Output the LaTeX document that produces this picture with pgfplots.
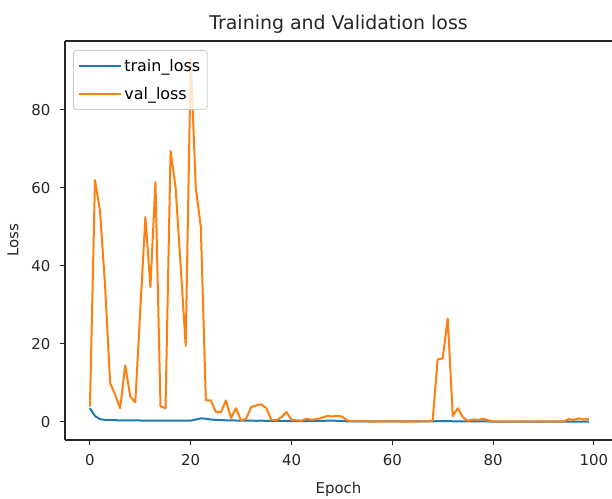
\documentclass[border=0pt]{standalone}
\usepackage{fontspec}
\setmainfont{DejaVu Sans}
\usepackage{pgfplots}
\usepackage{pgfplotstable}
\pgfplotsset{compat=1.18}
\definecolor{tabblue}{HTML}{1F77B4}
\definecolor{taborange}{HTML}{FF7F0E}
\pgfplotstableread{
epoch val
0 3.9
1 62
2 54
3 35
4 10
5 7
6 3.5
7 14.5
8 6.5
9 5
10 29
11 52.5
12 34.5
13 61.5
14 4
15 3.5
16 69.5
17 60
18 40
19 19.5
20 93
21 60
22 50
23 5.5
24 5.5
25 2.5
26 2.5
27 5.5
28 1
29 3.5
30 0.3
31 0.8
32 3.8
33 4.2
34 4.5
35 3.5
36 0.5
37 0.4
38 1.2
39 2.5
40 0.5
41 0.4
42 0.3
43 0.8
44 0.5
45 0.7
46 1.0
47 1.5
48 1.4
49 1.5
50 1.4
51 0.4
52 0.2
53 0.1
54 0.12
55 0.1
56 0.08
57 0.1
58 0.1
59 0.09
60 0.1
61 0.1
62 0.08
63 0.1
64 0.1
65 0.09
66 0.1
67 0.1
68 0.3
69 16
70 16.3
71 26.5
72 1.5
73 3.5
74 1.2
75 0.3
76 0.6
77 0.5
78 0.8
79 0.4
80 0.1
81 0.1
82 0.08
83 0.1
84 0.1
85 0.09
86 0.1
87 0.1
88 0.08
89 0.1
90 0.1
91 0.09
92 0.1
93 0.1
94 0.1
95 0.7
96 0.5
97 0.9
98 0.6
99 0.8
}\valdata
\pgfplotstableread{
epoch train
0 3.5
1 1.5
2 0.7
3 0.5
4 0.45
5 0.42
6 0.4
7 0.38
8 0.36
9 0.35
10 0.35
11 0.33
12 0.34
13 0.32
14 0.33
15 0.34
16 0.32
17 0.33
18 0.35
19 0.32
20 0.34
21 0.6
22 0.9
23 0.8
24 0.6
25 0.5
26 0.45
27 0.4
28 0.38
29 0.35
30 0.33
31 0.3
32 0.3
33 0.28
34 0.3
35 0.27
36 0.25
37 0.25
38 0.24
39 0.22
40 0.2
41 0.2
42 0.2
43 0.18
44 0.2
45 0.2
46 0.25
47 0.3
48 0.3
49 0.28
50 0.25
51 0.15
52 0.12
53 0.1
54 0.1
55 0.1
56 0.1
57 0.1
58 0.1
59 0.1
60 0.1
61 0.1
62 0.1
63 0.1
64 0.1
65 0.1
66 0.1
67 0.1
68 0.12
69 0.2
70 0.2
71 0.2
72 0.15
73 0.12
74 0.1
75 0.1
76 0.1
77 0.1
78 0.1
79 0.1
80 0.08
81 0.08
82 0.08
83 0.08
84 0.07
85 0.07
86 0.07
87 0.07
88 0.07
89 0.06
90 0.06
91 0.06
92 0.06
93 0.06
94 0.06
95 0.06
96 0.05
97 0.05
98 0.05
99 0.05
}\traindata
\begin{document}
\begin{tikzpicture}
\begin{axis}[
  scale only axis,
  width=547bp, height=399bp,
  xmin=-4.95, xmax=103.6,
  ymin=-4.65, ymax=97.65,
  axis x line*=box, axis y line*=left,
  xtick pos=bottom, ytick pos=left,
  xtick={0,20,40,60,80,100},
  ytick={0,20,40,60,80},
  tick align=outside,
  major tick length=5bp,
  axis line style={line width=1.1bp, black!85},
  every tick/.style={line width=1bp, black!85},
  /pgf/number format/assume math mode=true,
  tick label style={font=\fontsize{15}{18}\selectfont, text=black!85},
  xticklabel style={yshift=-6bp},
  yticklabel style={xshift=-6bp},
  title={Training and Validation loss},
  title style={font=\fontsize{19}{23}\selectfont, text=black!85, yshift=-2bp},
  xlabel={Epoch}, ylabel={Loss},
  label style={font=\fontsize{15}{18}\selectfont, text=black!85},
  xlabel style={yshift=-9bp},
  ylabel style={yshift=6bp},
  legend cell align=left,
  legend image code/.code={\draw[#1] (0bp,0bp) -- (35bp,0bp); \path (0bp,0bp) -- (42bp,0bp);},
  legend style={at={(rel axis cs:0,1)}, anchor=north west, xshift=8bp, yshift=-9bp,
    draw=black!20, line width=0.8bp, rounded corners=3bp, fill=white, fill opacity=0.8, text opacity=1,
    font=\fontsize{16}{19}\selectfont, row sep=10bp, inner xsep=5bp, inner ysep=7bp},
]
\coordinate (bl) at (rel axis cs:0,0);
\coordinate (tr) at (rel axis cs:1,1);
\addplot[tabblue, line width=2bp, line join=round] table[x=epoch, y=train] {\traindata};
\addlegendentry{train\_loss}
\addplot[taborange, line width=2bp, line join=round] table[x=epoch, y=val] {\valdata};
\addlegendentry{val\_loss}
\end{axis}
\pgfresetboundingbox
\path[use as bounding box] ([shift={(-65bp,-59bp)}]bl) rectangle ([shift={(0bp,41bp)}]tr);
\end{tikzpicture}
\end{document}
